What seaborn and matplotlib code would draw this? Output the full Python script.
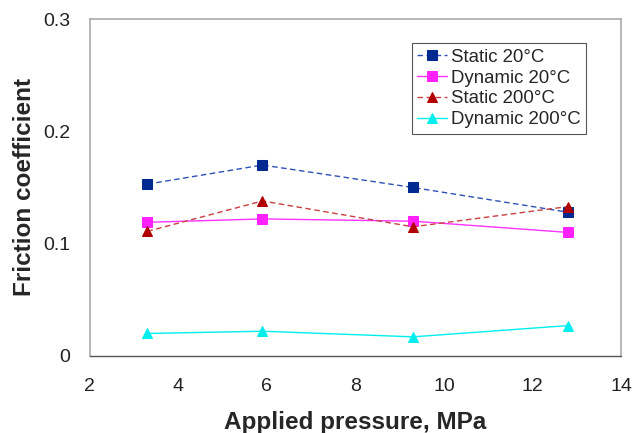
import matplotlib
matplotlib.use("Agg")
import matplotlib.pyplot as plt
import seaborn as sns
import pandas as pd

sns.set_style("white")
plt.rcParams['font.family'] = ['Liberation Sans', 'DejaVu Sans']

# data
pressure = [3.3, 5.9, 9.3, 12.8]
static_20 = [0.153, 0.170, 0.150, 0.128]
dynamic_20 = [0.119, 0.122, 0.120, 0.110]
static_200 = [0.111, 0.138, 0.115, 0.133]
dynamic_200 = [0.020, 0.022, 0.017, 0.027]

series = [
    ('Static 20°C', static_20, '#3050b8', '#002a8f', 's', '--'),
    ('Dynamic 20°C', dynamic_20, '#ff33ff', '#ff22ff', 's', '-'),
    ('Static 200°C', static_200, '#c84040', '#b00000', '^', '--'),
    ('Dynamic 200°C', dynamic_200, '#00eeee', '#00eeee', '^', '-'),
]

fig = plt.figure(figsize=(6.33, 4.33), dpi=100)
ax = fig.add_axes([0.142, 0.178, 0.839, 0.778])

for name, vals, lc, mc, mk, ls in series:
    df = pd.DataFrame({'x': pressure, 'y': vals})
    sns.lineplot(data=df, x='x', y='y', ax=ax, color=lc, linewidth=1.0,
                 marker=mk, markersize=6.5, markerfacecolor=mc, markeredgecolor=mc,
                 label=name)
    if ls == '--':
        ax.lines[-1].set_dashes([4, 2.5])

ax.set_xlim(2, 14)
ax.set_ylim(0, 0.3)
ax.set_xticks([2, 4, 6, 8, 10, 12, 14])
ax.set_yticks([0, 0.1, 0.2, 0.3])
ax.set_yticklabels(['0', '0.1', '0.2', '0.3'])
ax.tick_params(axis='both', labelsize=14, colors='#222222', length=5, width=1)
ax.tick_params(axis='x', direction='inout', length=8, pad=12, color='#555555')
ax.tick_params(axis='y', direction='out', pad=9, color='#aaaaaa')

for side in ['top', 'right', 'left']:
    ax.spines[side].set_color('#aaaaaa')
    ax.spines[side].set_linewidth(1.2)
ax.spines['bottom'].set_color('#555555')
ax.spines['bottom'].set_linewidth(1.0)

ax.set_xlabel('Applied pressure, MPa', fontsize=17.5, fontweight='bold', labelpad=11.5)
ax.set_ylabel('Friction coefficient', fontsize=17.5, fontweight='bold', labelpad=5)

leg = ax.legend(loc='upper left', bbox_to_anchor=(0.606, 0.928), fontsize=13.4,
                frameon=True, fancybox=False, edgecolor='#555555', framealpha=1,
                handlelength=1.6, handletextpad=0.2, borderpad=0.3, labelspacing=0.2,
                borderaxespad=0)
leg.get_frame().set_linewidth(0.8)

plt.savefig('out.png', dpi=100)
